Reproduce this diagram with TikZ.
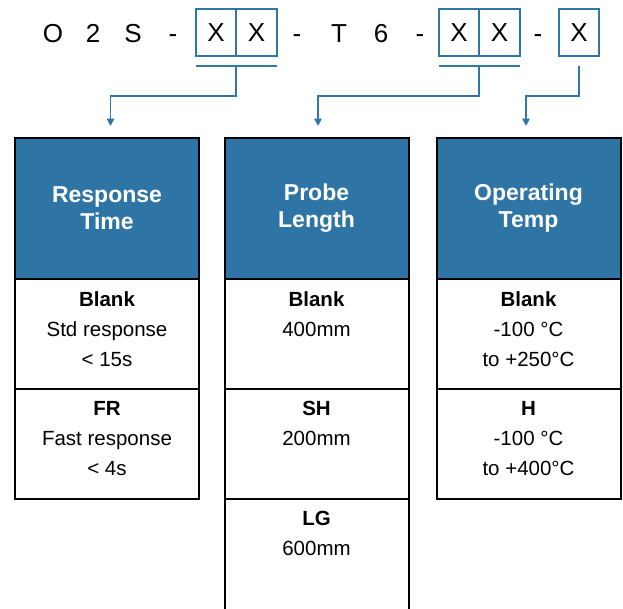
\documentclass[tikz,border=0pt]{standalone}
\usepackage{fontspec}
\setmainfont{Liberation Sans}
\usepackage{tikz}
\usetikzlibrary{positioning,arrows.meta}
\definecolor{headblue}{RGB}{46,117,166}
\definecolor{linkblue}{RGB}{49,118,168}

\begin{document}
\begin{tikzpicture}[x=1pt,y=-1pt,
  codechar/.style={inner sep=0pt, anchor=base, font=\fontsize{26}{30}\selectfont},
  codebox/.style={draw=linkblue, line width=1.7pt, outer sep=0pt, inner sep=0pt,
    minimum width=40.6pt, minimum height=46.5pt, font=\fontsize{26}{30}\selectfont},
  bar/.style={draw=linkblue, line width=1.8pt},
  link/.style={draw=linkblue, line width=1.8pt, -{Triangle[width=7.5pt,length=7.5pt]}},
  header/.style={draw, line width=2pt, fill=headblue, text=white, outer sep=0pt,
    minimum width=184pt, minimum height=141pt, align=center,
    font=\fontsize{23}{27}\selectfont\bfseries},
  cell/.style={draw, line width=2pt, outer sep=0pt, minimum width=184pt, minimum height=110pt},
  celltext/.style={anchor=north, yshift=-12.7pt, inner sep=0pt, align=center,
    font=\fontsize{20.5}{30}\selectfont}]
  \useasboundingbox (0,0) rectangle (623,608);

  \foreach \cx/\ch in {53/O,93/2,133/S,173/-,297/-,339/T,381/6,420/-,538/-}
    \node[codechar] (c\cx) at (\cx,42.5) {\ch};
  \node[codebox] (xa) at (216,32.5) {X};
  \node[codebox, right=0pt of xa] (xb) {X};
  \node[codebox] (xc) at (459,32.5) {X};
  \node[codebox, right=0pt of xc] (xd) {X};
  \node[codebox] (xe) at (579,32.5) {X};

  \draw[bar] ([yshift=-10pt]xa.south west) -- ([yshift=-10pt]xb.south east);
  \draw[bar] ([yshift=-10pt]xc.south west) -- ([yshift=-10pt]xd.south east);
  \coordinate (ba) at ([yshift=-10pt]xa.south east);
  \coordinate (bc) at ([yshift=-10pt]xc.south east);
  \coordinate (be) at ([yshift=-10pt]xe.south);

  \node[header] (rt) at (107,208.2) {Response\\Time};
  \node[cell, below=0pt of rt,
    label={[celltext]north:{\textbf{Blank}\\Std response\\< 15s}}] (rt1) {};
  \node[cell, below=0pt of rt1,
    label={[celltext]north:{\textbf{FR}\\Fast response\\< 4s}}] (rt2) {};

  \node[header] (pl) at (316.5,208.2) {Probe\\Length};
  \node[cell, below=0pt of pl,
    label={[celltext]north:{\textbf{Blank}\\400mm}}] (pl1) {};
  \node[cell, below=0pt of pl1,
    label={[celltext]north:{\textbf{SH}\\200mm}}] (pl2) {};
  \node[cell, below=0pt of pl2, minimum height=125pt,
    label={[celltext]north:{\textbf{LG}\\600mm}}] (pl3) {};

  \node[header] (ot) at (528.5,208.2) {Operating\\Temp};
  \node[cell, below=0pt of ot,
    label={[celltext]north:{\textbf{Blank}\\-100 °C\\to +250°C}}] (ot1) {};
  \node[cell, below=0pt of ot1,
    label={[celltext]north:{\textbf{H}\\-100 °C\\to +400°C}}] (ot2) {};

  \coordinate (ta) at ([xshift=3.5pt,yshift=11.7pt]rt.north);
  \coordinate (tp) at ([xshift=1.5pt,yshift=11.7pt]pl.north);
  \coordinate (to) at ([xshift=-2.5pt,yshift=11.7pt]ot.north);
  \draw[link] (ba) -- ++(0,30) -| (ta);
  \draw[link] (bc) -- ++(0,30) -| (tp);
  \draw[link] (be) -- ++(0,30) -| (to);
\end{tikzpicture}
\end{document}
